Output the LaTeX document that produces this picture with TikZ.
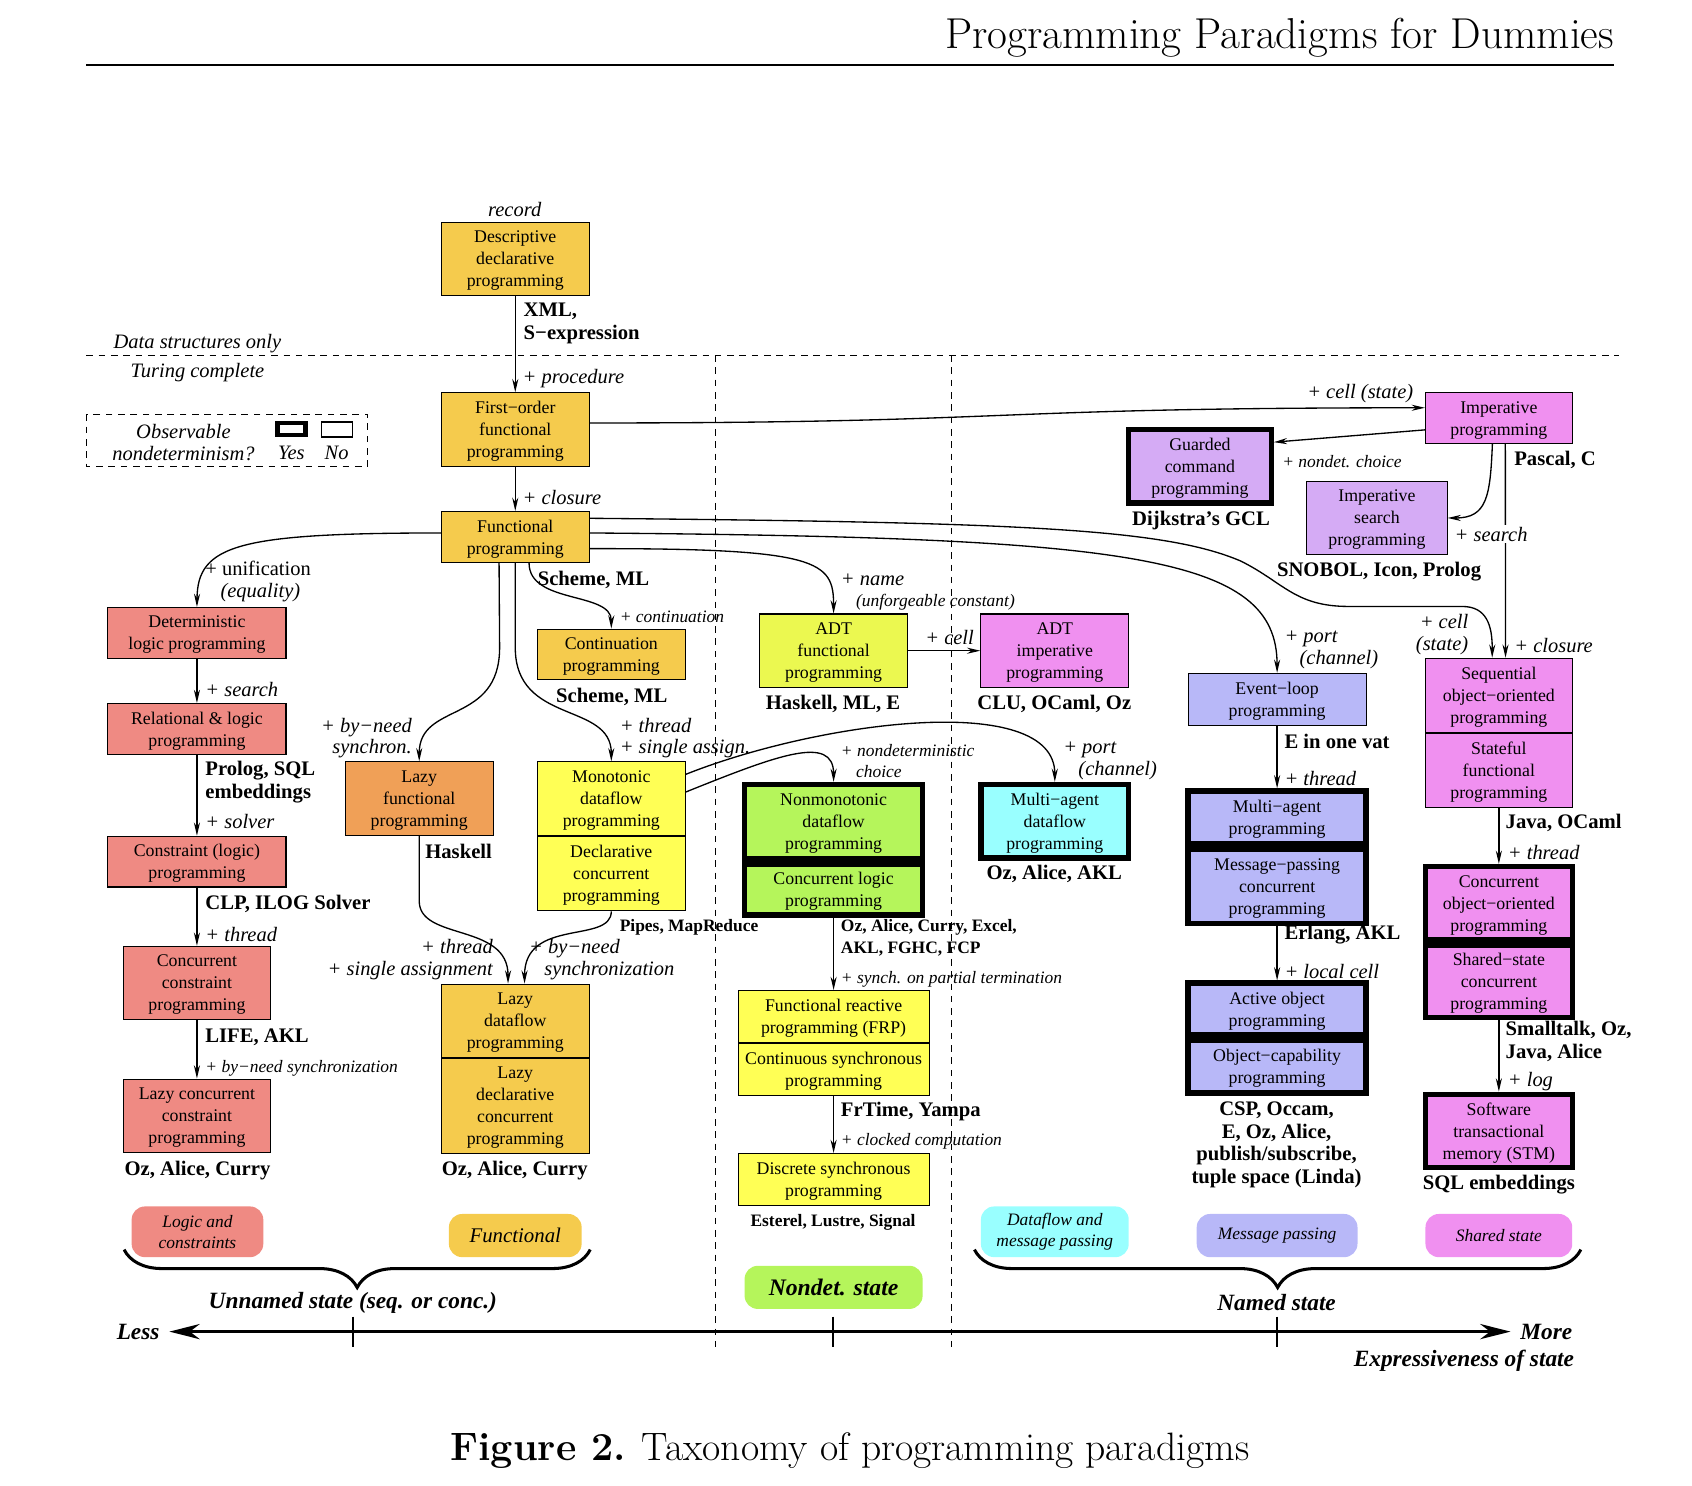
\documentclass[tikz,border=0pt]{standalone}
\usepackage{fontspec}
\usepackage{tikz}
\usetikzlibrary{positioning,arrows.meta,decorations.pathreplacing}

\newfontfamily\tms{Liberation Serif}

% Colours of the paradigm families
\definecolor{funcgold}{RGB}{245,203,77}
\definecolor{logicred}{RGB}{239,138,131}
\definecolor{lazyorange}{RGB}{240,160,87}
\definecolor{dfyellow}{RGB}{255,255,85}
\definecolor{adtyellow}{RGB}{235,248,80}
\definecolor{statepink}{RGB}{240,144,240}
\definecolor{guardpurple}{RGB}{213,171,245}
\definecolor{msgblue}{RGB}{184,184,248}
\definecolor{dfcyan}{RGB}{153,255,255}
\definecolor{nondetgreen}{RGB}{181,245,91}

\tikzset{
  pbox/.style={draw, line width=0.6pt, align=center, inner sep=1pt, text depth=-7pt,
    font=\tms\fontsize{9.4}{11.6}\selectfont},
  pboxthick/.style={pbox, line width=2.8pt},
  wh/.style 2 args={minimum width=#1*0.02cm, minimum height=#2*0.02cm},
  langlbl/.style={font=\tms\bfseries\fontsize{10.9}{12}\selectfont, align=left, inner sep=0pt},
  smlanglbl/.style={font=\tms\bfseries\fontsize{9.2}{11.9}\selectfont, align=left, inner sep=0pt},
  edgelbl/.style={font=\tms\itshape\fontsize{10.8}{11.4}\selectfont, align=left, inner sep=0pt},
  smedgelbl/.style={font=\tms\itshape\fontsize{9.2}{11.3}\selectfont, align=left, inner sep=0pt},
  catbox/.style={rounded corners=7pt, inner sep=1pt, align=center,
    font=\tms\itshape\fontsize{9.2}{11}\selectfont},
  statelbl/.style={font=\tms\bfseries\itshape\fontsize{12.3}{14}\selectfont, inner sep=0pt},
  conn/.style={->, line width=0.7pt},
  sepline/.style={line width=0.5pt, dash pattern=on 3.5pt off 3pt},
}

\begin{document}
\begin{tikzpicture}[x=0.02cm, y=-0.02cm, >={Stealth[length=7pt,width=3.2pt]}]

\useasboundingbox (0,0) rectangle (1568,1377);

% Title and rule
\node[anchor=base east, inner sep=0pt, font=\fontsize{22.8}{27}\selectfont] (title) at (1496,45) {Programming Paradigms for Dummies};
\draw[line width=0.8pt] (80,60) -- (1496,60);

% Separators
\draw[sepline] (80,329) -- (1500,329);
\draw[sepline] (663,329) -- (663,1248);
\draw[sepline] (882,329) -- (882,1248);
\node[edgelbl] (dsonly) at (183,318) {Data structures only};
\node[edgelbl] (turing) at (183,345) {Turing complete};

% Legend
\draw[sepline] (80,384) rectangle (341,432);
\node[edgelbl, align=center] (obs) at (170,410) {Observable\\nondeterminism?};
\node[draw, line width=2.3pt, wh={26}{11}, inner sep=0pt] (legyes) at (270,397.5) {};
\node[draw, line width=0.6pt, wh={29}{14}, inner sep=0pt] (legno) at (312.5,398) {};
\node[edgelbl] (yes) at (270,420) {Yes};
\node[edgelbl] (no) at (312,420) {No};

% Functional column
\node[pbox, fill=funcgold, wh={137}{68}] (desc) at (477.5,240) {Descriptive\\declarative\\programming};
\node[pbox, fill=funcgold, wh={137}{68}] (first) at (477.5,398) {First−order\\functional\\programming};
\node[pbox, fill=funcgold, wh={137}{47}] (func) at (477.5,497.5) {Functional\\programming};
\node[pbox, fill=funcgold, wh={137}{47}] (cont) at (566.5,606.5) {Continuation\\programming};
\node[pbox, fill=lazyorange, wh={137}{68}] (lazyf) at (388.5,740) {Lazy\\functional\\programming};
\node[pbox, fill=dfyellow, wh={137}{68}] (mono) at (566.5,740) {Monotonic\\dataflow\\programming};
\node[pbox, fill=dfyellow, wh={137}{69}, below=0pt of mono] (decl) {Declarative\\concurrent\\programming};
\node[pbox, fill=funcgold, wh={137}{68}] (lazyd) at (477.5,946) {Lazy\\dataflow\\programming};
\node[pbox, fill=funcgold, wh={137}{88}, below=0pt of lazyd] (lazydc) {Lazy\\declarative\\concurrent\\programming};

% Logic column
\node[pbox, fill=logicred, wh={165}{47}] (detlog) at (182.5,586.5) {Deterministic\\logic programming};
\node[pbox, fill=logicred, wh={165}{47}] (rellog) at (182.5,675.5) {Relational \& logic\\programming};
\node[pbox, fill=logicred, wh={165}{47}] (constr) at (182.5,798.5) {Constraint (logic)\\programming};
\node[pbox, fill=logicred, wh={136}{68}] (ccp) at (182.5,911) {Concurrent\\constraint\\programming};
\node[pbox, fill=logicred, wh={136}{68}] (lccp) at (182.5,1034) {Lazy concurrent\\constraint\\programming};

% Middle columns
\node[pbox, fill=adtyellow, wh={137}{68}] (adtf) at (772.5,603) {ADT\\functional\\programming};
\node[pbox, fill=statepink, wh={137}{68}] (adti) at (977.5,603) {ADT\\imperative\\programming};
\node[pboxthick, fill=nondetgreen, wh={165}{69}] (nonmono) at (772.5,761.5) {Nonmonotonic\\dataflow\\programming};
\node[pboxthick, fill=nondetgreen, wh={165}{47}, below=0pt of nonmono] (conclog) {Concurrent logic\\programming};
\node[pboxthick, fill=dfcyan, wh={137}{68}] (mad) at (977.5,761) {Multi−agent\\dataflow\\programming};
\node[pbox, fill=dfyellow, wh={177}{48}] (frp) at (772.5,942) {Functional reactive\\programming (FRP)};
\node[pbox, fill=dfyellow, wh={177}{48}, below=0pt of frp] (contsync) {Continuous synchronous\\programming};
\node[pbox, fill=dfyellow, wh={177}{48}] (discsync) at (772.5,1093) {Discrete synchronous\\programming};

% Stateful columns
\node[pbox, fill=statepink, wh={136}{47}] (imp) at (1389,387.5) {Imperative\\programming};
\node[pboxthick, fill=guardpurple, wh={132}{68}] (gcl) at (1112,432) {Guarded\\command\\programming};
\node[pbox, fill=guardpurple, wh={130}{68}] (isp) at (1276,480) {Imperative\\search\\programming};
\node[pbox, fill=msgblue, wh={165}{48}] (evl) at (1183.5,648) {Event−loop\\programming};
\node[pboxthick, fill=msgblue, wh={165}{49}] (map) at (1183.5,757.5) {Multi−agent\\programming};
\node[pboxthick, fill=msgblue, wh={165}{69}, below=0pt of map] (mpc) {Message−passing\\concurrent\\programming};
\node[pboxthick, fill=msgblue, wh={165}{48}] (aop) at (1183.5,935) {Active object\\programming};
\node[pboxthick, fill=msgblue, wh={165}{49}, below=0pt of aop] (ocp) {Object−capability\\programming};
\node[pbox, fill=statepink, wh={136}{69}] (seqoo) at (1389,644.5) {Sequential\\object−oriented\\programming};
\node[pbox, fill=statepink, wh={136}{68}, below=0pt of seqoo] (sfp) {Stateful\\functional\\programming};
\node[pboxthick, fill=statepink, wh={136}{68}] (coop) at (1389,837) {Concurrent\\object−oriented\\programming};
\node[pboxthick, fill=statepink, wh={136}{67}, below=0pt of coop] (sscp) {Shared−state\\concurrent\\programming};
\node[pboxthick, fill=statepink, wh={136}{68}] (stm) at (1389,1048) {Software\\transactional\\memory (STM)};

% Connectors
\draw[conn] (desc) -- (first);
\draw[conn] (first) -- (func);
\draw[conn] (first.5) .. controls (950,392) and (900,378) .. (imp.172);
\draw[conn] (func.177) .. controls (220,494) and (183,505) .. (detlog.north);
\draw[conn] (detlog) -- (rellog);
\draw[conn] (rellog) -- (constr);
\draw[conn] (constr) -- (ccp);
\draw[conn] (ccp) -- (lccp);
\draw[conn] (func.238) -- (463,600) .. controls (463,672) and (388.5,650) .. (lazyf.north);
\draw[conn] (func.south) -- (477.5,600) .. controls (477.5,672) and (566.5,650) .. (mono.north);
\draw[conn] (func.298) .. controls (490,560) and (566.5,548) .. (cont.north);
\draw[conn] (func.-9) .. controls (760,508) and (772.5,520) .. (adtf.north);
\draw[conn] (func.3) .. controls (1050,498) and (1183.5,515) .. (evl.north);
\draw[conn] (func.14) .. controls (950,484) and (1080,490) .. (1150,520) .. controls (1190,540) and (1200,562) .. (1250,562) -- (1355,562) .. controls (1378,562) and (1383,580) .. (seqoo.100);
\draw[conn] (mono.18) .. controls (760,668) and (977.5,640) .. (mad.north);
\draw[conn] (mono.5) .. controls (720,700) and (772.5,680) .. (nonmono.north);
\draw[conn] (lazyf.south) -- (388.5,835) .. controls (388.5,872) and (471,855) .. (lazyd.101);
\draw[conn] (decl.south) .. controls (566.5,875) and (486,850) .. (lazyd.76);
\draw[conn] (adtf) -- (adti);
\draw[conn] (conclog) -- (frp);
\draw[conn] (contsync) -- (discsync);
\draw[conn] (imp.189) -- (gcl.18);
\draw[conn] (imp.256) .. controls (1381,460) and (1378,480) .. (isp.east);
\draw[conn] (imp.284) -- (seqoo.80);
\draw[conn] (evl) -- (map);
\draw[conn] (mpc) -- (aop);
\draw[conn] (sfp) -- (coop);
\draw[conn] (sscp) -- (stm);

% Edge labels
\node[edgelbl] (recordlbl) at (477,194) {record};
\node[edgelbl, anchor=west] (proclbl) at (484,351) {+ procedure};
\node[edgelbl, anchor=west] (closlbl) at (484,461) {+ closure};
\node[edgelbl, anchor=west, font=\tms\fontsize{10.8}{11.4}\selectfont] (unilbl) at (190,539) {+ unification\\\hspace*{8pt}\textit{(equality)}};
\node[edgelbl, anchor=west] (searchlbl) at (190,639) {+ search};
\node[edgelbl, anchor=west] (solverlbl) at (190,761) {+ solver};
\node[edgelbl, anchor=west] (threadlbl) at (190,866) {+ thread};
\node[smedgelbl, anchor=west] (byneedlbl) at (190,990) {+ by−need synchronization};
\node[smedgelbl, anchor=west] (contlbl) at (574,572) {+ continuation};
\node[edgelbl, anchor=east, align=right] (synchlbl) at (382,684) {+ by−need\\synchron.};
\node[edgelbl, anchor=west] (tsalbl) at (574,684) {+ thread\\+ single assign.};
\node[edgelbl, anchor=east, align=right] (tsalbl2) at (457,889) {+ thread\\+ single assignment};
\node[edgelbl, anchor=west] (bnslbl) at (490,889) {+ by−need\\\hspace*{8pt}synchronization};
\node[edgelbl, anchor=west] (namelbl) at (779,537) {+ name};
\node[smedgelbl, anchor=west] (unforglbl) at (793,558) {(unforgeable constant)};
\node[edgelbl] (celllbl) at (880,591) {+ cell};
\node[smedgelbl, anchor=west] (ndclbl) at (779,705) {+ nondeterministic\\\hspace*{8pt}choice};
\node[edgelbl, anchor=west] (portlbl) at (985,705) {+ port\\\hspace*{8pt}(channel)};
\node[smedgelbl, anchor=west] (partlbl) at (779,908) {+ synch. on partial termination};
\node[smedgelbl, anchor=west] (clocklbl) at (779,1058) {+ clocked computation};
\node[edgelbl, anchor=east] (cellstlbl) at (1310,365) {+ cell (state)};
\node[smedgelbl, anchor=west] (ndchlbl) at (1188,428) {+ nondet. choice};
\node[edgelbl, anchor=west, fill=white, inner sep=1pt] (isearchlbl) at (1346,495) {+ search};
\node[edgelbl, anchor=west] (port2lbl) at (1190,602) {+ port\\\hspace*{8pt}(channel)};
\node[edgelbl, anchor=east, align=right] (cell2lbl) at (1361,588) {+ cell\\(state)};
\node[edgelbl, anchor=west] (clos2lbl) at (1403,598) {+ closure};
\node[edgelbl, anchor=west] (thread2lbl) at (1190,721) {+ thread};
\node[edgelbl, anchor=west] (localcelllbl) at (1190,900) {+ local cell};
\node[edgelbl, anchor=west] (thread3lbl) at (1397,790) {+ thread};
\node[edgelbl, anchor=west] (loglbl) at (1397,1002) {+ log};

% Languages
\node[langlbl, anchor=west] (xmllang) at (485,300) {XML,\\S−expression};
\node[langlbl, anchor=west] (schemelang) at (498,537) {Scheme, ML};
\node[langlbl] (schemelang2) at (567,646) {Scheme, ML};
\node[langlbl, anchor=west] (prologlang) at (190,725) {Prolog, SQL\\embeddings};
\node[langlbl] (haskelllang) at (425,789) {Haskell};
\node[langlbl, anchor=west] (clplang) at (190,838) {CLP, ILOG Solver};
\node[langlbl, anchor=west] (lifelang) at (190,961) {LIFE, AKL};
\node[langlbl] (ozlang) at (183,1085) {Oz, Alice, Curry};
\node[langlbl] (ozlang2) at (477,1085) {Oz, Alice, Curry};
\node[smlanglbl, anchor=west] (pipeslang) at (574,859) {Pipes, MapReduce};
\node[langlbl] (adtflang) at (772,652) {Haskell, ML, E};
\node[langlbl] (adtilang) at (977,652) {CLU, OCaml, Oz};
\node[langlbl] (madlang) at (977,810) {Oz, Alice, AKL};
\node[smlanglbl, anchor=west] (cclang) at (779,869) {Oz, Alice, Curry, Excel,\\AKL, FGHC, FCP};
\node[langlbl, anchor=west] (frtlang) at (779,1030) {FrTime, Yampa};
\node[smlanglbl] (esterellang) at (772,1133) {Esterel, Lustre, Signal};
\node[langlbl] (gcllang) at (1113,482) {Dijkstra’s GCL};
\node[langlbl, anchor=west] (pascallang) at (1403,426) {Pascal, C};
\node[langlbl] (snobollang) at (1278,530) {SNOBOL, Icon, Prolog};
\node[langlbl, anchor=west] (vatlang) at (1190,687) {E in one vat};
\node[langlbl, anchor=west] (erlanglang) at (1190,866) {Erlang, AKL};
\node[langlbl, align=center] (csplang) at (1183,1061) {CSP, Occam,\\E, Oz, Alice,\\publish/subscribe,\\tuple space (Linda)};
\node[langlbl, anchor=west] (javalang) at (1395,763) {Java, OCaml};
\node[langlbl, anchor=west] (smalltalklang) at (1395,965) {Smalltalk, Oz,\\Java, Alice};
\node[langlbl] (sqllang) at (1389,1098) {SQL embeddings};

% Families
\node[catbox, fill=logicred, wh={122}{47}] (logiccat) at (183,1141.5) {Logic and\\constraints};
\node[catbox, fill=funcgold, wh={123}{40}, font=\tms\itshape\fontsize{11}{13}\selectfont] (funccat) at (477.5,1145) {Functional};
\node[catbox, fill=dfcyan, wh={137}{47}] (dfcat) at (977.5,1141.5) {Dataflow and\\message passing};
\node[catbox, fill=msgblue, wh={149}{40}] (msgcat) at (1183.5,1145) {Message passing};
\node[catbox, fill=statepink, wh={136}{40}] (sscat) at (1389,1145) {Shared state};
\node[catbox, fill=nondetgreen, wh={165}{40}, font=\tms\bfseries\itshape\fontsize{12.5}{14}\selectfont] (ndcat) at (772.5,1193) {Nondet. state};

% Braces
\draw[decorate, decoration={brace, mirror, amplitude=20pt}, line width=1.6pt] (115,1158) -- (547,1158);
\draw[decorate, decoration={brace, mirror, amplitude=20pt}, line width=1.6pt] (903,1158) -- (1465,1158);
\node[statelbl] (unnamed) at (327,1207) {Unnamed state (seq. or conc.)};
\node[statelbl] (named) at (1183,1207) {Named state};

% Axis
\node[statelbl, inner sep=5pt] (less) at (128,1234) {Less};
\node[statelbl, inner sep=5pt] (more) at (1433,1234) {More};
\draw[{Stealth[length=16pt,width=8pt]}-{Stealth[length=16pt,width=8pt]}, line width=1.8pt] (less) -- (more);
\foreach \x in {327,772,1183}
  \draw[line width=1pt] (\x,1220) -- (\x,1248);
\node[statelbl, anchor=east] (expr) at (1459,1261) {Expressiveness of state};

% Caption
\node[anchor=base, font=\fontsize{20.9}{25}\selectfont] (caption) at (787.5,1353) {\textbf{Figure 2.} Taxonomy of programming paradigms};

\end{tikzpicture}
\end{document}
